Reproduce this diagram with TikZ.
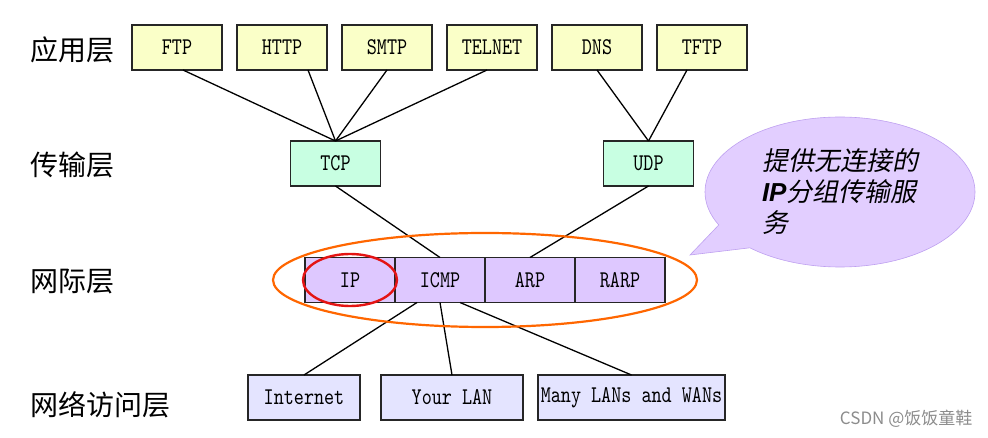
\documentclass[tikz,border=0pt]{standalone}
\usepackage{fontspec}
\usetikzlibrary{positioning, shapes.callouts}
\newfontfamily\cjk{Noto Sans CJK SC}
\newfontfamily\cjkit[FakeSlant=0.2]{Noto Sans CJK SC}
\newfontfamily\boxfont[FakeStretch=0.8]{lmmono10-regular.otf}
\newfontfamily\ipfont{Liberation Sans}

\definecolor{appfill}{RGB}{250,255,200}
\definecolor{tpfill}{RGB}{200,255,226}
\definecolor{ipfill}{RGB}{222,200,255}
\definecolor{accfill}{RGB}{228,228,255}
\definecolor{bubblefill}{RGB}{226,206,255}
\definecolor{bubbleline}{RGB}{190,160,240}
\definecolor{ringorange}{RGB}{255,102,0}
\definecolor{ringred}{RGB}{228,20,20}

\begin{document}
\begin{tikzpicture}[
            x = 1pt, y = -1pt, % pixel-like units, y pointing down
            node distance = 15pt, % gap between boxes in a row
            semithick % line style
        ]

        \tikzstyle{proto}=[
            draw = black!85,
            line width = 1.6pt,
            outer sep = 0pt,
            minimum width = 90pt,
            minimum height = 45pt,
            inner sep = 2pt,
            font = \boxfont\fontsize{24}{24}\selectfont
        ]
        \tikzstyle{layer}=[anchor = west, inner sep = 0pt, font = \cjk\fontsize{28}{28}\selectfont]
        \tikzstyle{link}=[line width = 1.3pt]
        \tikzstyle{bubble}=[
            ellipse callout,
            draw = bubbleline,
            fill = bubblefill,
            minimum width = 270pt,
            minimum height = 150pt,
            callout pointer arc = 22,
            align = left,
            font = \cjkit\fontsize{26}{31}\selectfont
        ]

        \useasboundingbox (0,0) rectangle (988,438);

        % layer names
        \node[layer] (lapp) at (30,50) {应用层};
        \node[layer] (ltrans) at (30,165) {传输层};
        \node[layer] (lnet) at (30,282) {网际层};
        \node[layer] (lacc) at (30,405) {网络访问层};

        % application layer
        \node[proto, fill=appfill] (ftp) at (177,47.5) {FTP};
        \node[proto, fill=appfill, right=of ftp] (http) {HTTP};
        \node[proto, fill=appfill, right=of http] (smtp) {SMTP};
        \node[proto, fill=appfill, right=of smtp] (telnet) {TELNET};
        \node[proto, fill=appfill, right=of telnet] (dns) {DNS};
        \node[proto, fill=appfill, right=of dns] (tftp) {TFTP};

        % transport layer
        \node[proto, fill=tpfill] (tcp) at (335.5,163.5) {TCP};
        \node[proto, fill=tpfill, right=223pt of tcp] (udp) {UDP};

        % internet layer
        \node[proto, fill=ipfill] (ip) at (350,280) {IP};
        \node[proto, fill=ipfill, right=0pt of ip] (icmp) {ICMP};
        \node[proto, fill=ipfill, right=0pt of icmp] (arp) {ARP};
        \node[proto, fill=ipfill, right=0pt of arp] (rarp) {RARP};

        % network access layer
        \node[proto, fill=accfill, minimum width=112pt] (inet) at (304,397.5) {Internet};
        \node[proto, fill=accfill, minimum width=142pt, right=21pt of inet] (lan) {Your LAN};
        \node[proto, fill=accfill, minimum width=187pt, right=of lan] (wan) {Many LANs and WANs};

        \draw[link] ([xshift=6pt]ftp.south) -- (tcp.north);
        \draw[link] ([xshift=26pt]http.south) -- (tcp.north);
        \draw[link] (smtp.south) -- (tcp.north);
        \draw[link] ([xshift=-5pt]telnet.south) -- (tcp.north);
        \draw[link] (dns.south) -- (udp.north);
        \draw[link] ([xshift=-15pt]tftp.south) -- (udp.north);
        \draw[link] (tcp.south) -- (icmp.north);
        \draw[link] (udp.south) -- (arp.north);
        \draw[link] ([xshift=-23pt]icmp.south) -- (inet.north);
        \draw[link] (icmp.south) -- (lan.north);
        \draw[link] ([xshift=20pt]icmp.south) -- (wan.north);

        % note
        \node[bubble, callout absolute pointer={(690,255)}] (note) at (840,192)
            {提供无连接的\\{\ipfont\bfseries\itshape IP}分组传输服\\务};

        \draw[line width = 2.2pt, ringorange] (icmp.east) ellipse [x radius=212pt, y radius=47pt];
        \draw[line width = 2.4pt, ringred] (ip) ellipse [x radius=47pt, y radius=26pt];

        \node[anchor=east, text=black!45, font=\cjk\fontsize{17}{17}\selectfont] (mark) at (976,419) {CSDN @饭饭童鞋};
\end{tikzpicture}
\end{document}
